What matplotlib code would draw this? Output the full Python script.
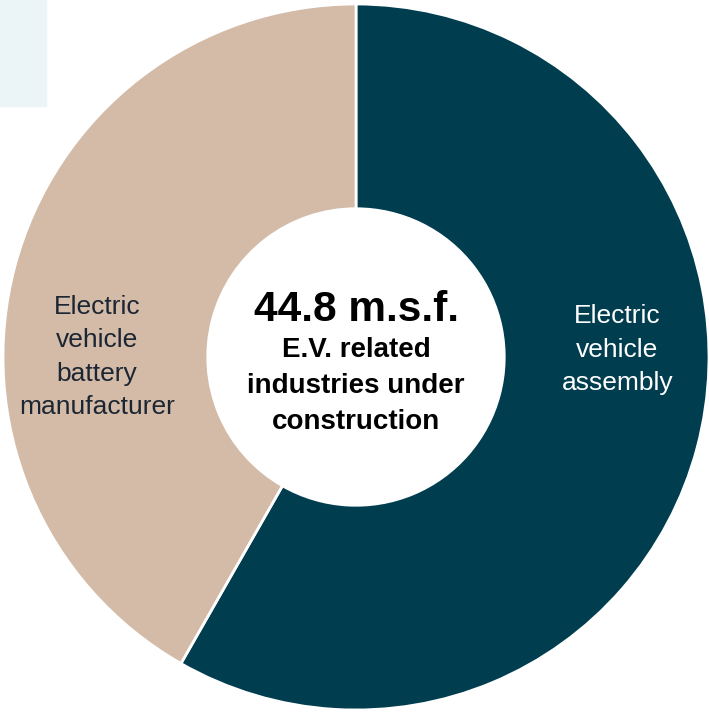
import matplotlib.pyplot as plt
from matplotlib.patches import Rectangle

plt.rcParams['font.family'] = ['Liberation Sans', 'DejaVu Sans']

# square feet under construction, m.s.f.
segments = ['Electric\nvehicle\nassembly', 'Electric\nvehicle\nbattery\nmanufacturer']
msf = [26.1, 18.7]
colors = ['#003d4f', '#d3bba8']
label_colors = ['white', '#1c2633']
label_pos = [(0.74, 0.02), (-0.734, 0.0)]
total = 44.8

W, H = 709, 713
fig = plt.figure(figsize=(W / 100, H / 100), dpi=100)
fig.patches.append(Rectangle((0, 1 - 106 / H), 46 / W, 106 / H,
                             transform=fig.transFigure, color='#ebf4f7', zorder=0))

cx, cy, r = 356, 357, 353
ax = fig.add_axes([(cx - r) / W, 1 - (cy + r) / H, 2 * r / W, 2 * r / H])
ax.set_zorder(1)
ax.patch.set_alpha(0)

ax.pie(msf, colors=colors, startangle=90, counterclock=False, radius=1,
       wedgeprops=dict(width=0.58, edgecolor='white', linewidth=2))
for name, (x, y), c in zip(segments, label_pos, label_colors):
    ax.text(x, y, name, ha='center', va='center', fontsize=19, color=c,
            linespacing=1.5)
ax.set_xlim(-1, 1)
ax.set_ylim(-1, 1)
ax.set_aspect('equal')
ax.axis('off')

ax.text(0, 0.133, f'{total} m.s.f.', ha='center', va='center',
        fontsize=30.5, fontweight='bold', color='black')
ax.text(0, -0.082, 'E.V. related\nindustries under\nconstruction', ha='center',
        va='center', fontsize=20, fontweight='bold', color='black', linespacing=1.5)

fig.savefig('out.png', dpi=100)
